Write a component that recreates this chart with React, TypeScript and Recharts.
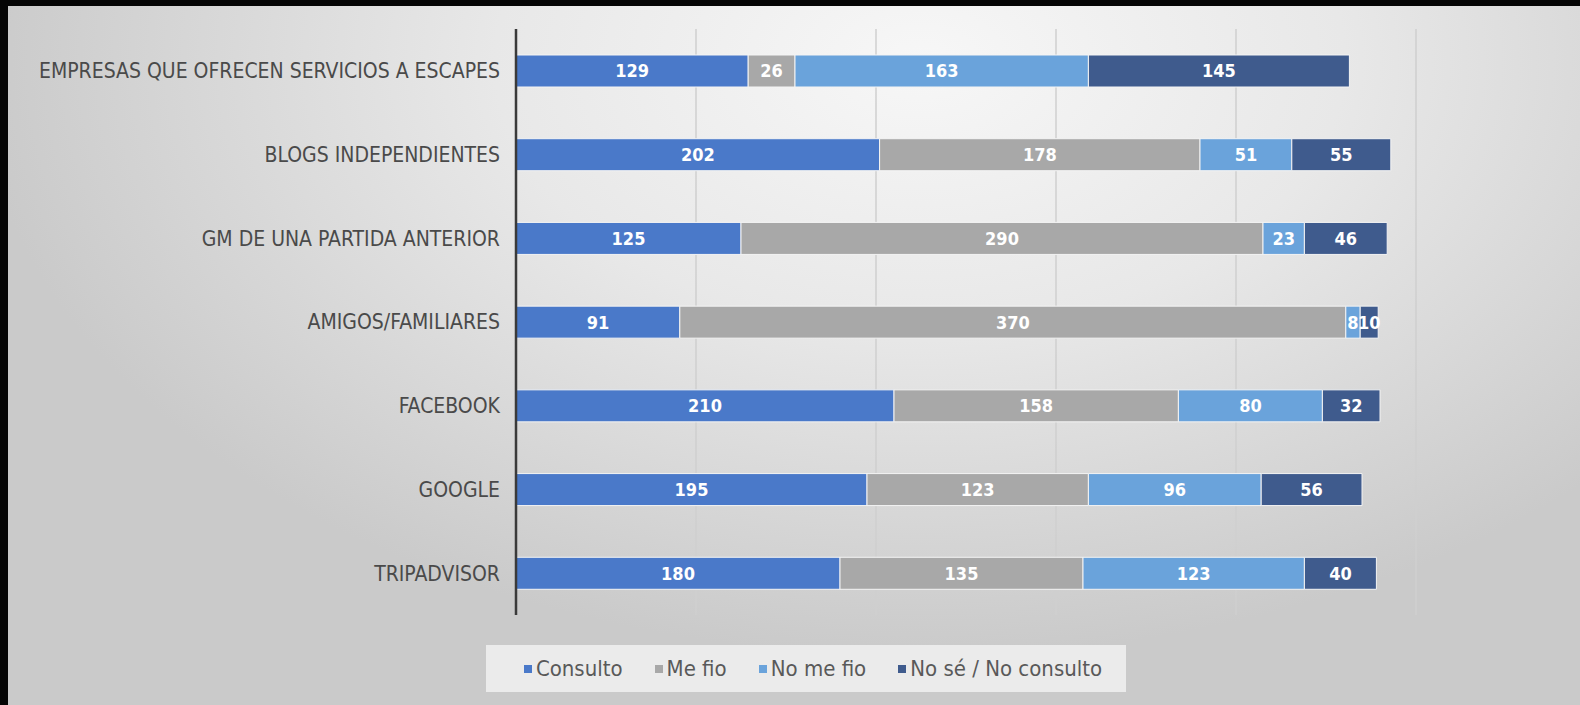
import React from "react";
import {
  BarChart,
  Bar,
  XAxis,
  YAxis,
  CartesianGrid,
  LabelList,
} from "recharts";

const categories = [
  "EMPRESAS QUE OFRECEN SERVICIOS A ESCAPES",
  "BLOGS INDEPENDIENTES",
  "GM DE UNA PARTIDA ANTERIOR",
  "AMIGOS/FAMILIARES",
  "FACEBOOK",
  "GOOGLE",
  "TRIPADVISOR",
];

const consulto = [129, 202, 125, 91, 210, 195, 180];
const meFio = [26, 178, 290, 370, 158, 123, 135];
const noMeFio = [163, 51, 23, 8, 80, 96, 123];
const noSe = [145, 55, 46, 10, 32, 56, 40];

const xTicks = [0, 100, 200, 300, 400, 500];

const SERIES = [
  { key: "consulto", name: "Consulto", color: "#4a79c9" },
  { key: "meFio", name: "Me fio", color: "#a8a8a8" },
  { key: "noMeFio", name: "No me fio", color: "#6aa3db" },
  { key: "noSe", name: "No sé / No consulto", color: "#3f5b8d" },
];

const FONT = '"Liberation Sans Narrow", "DejaVu Sans Condensed", "Open Sans", sans-serif';

const data = categories.map((c, i) => ({
  name: c,
  consulto: consulto[i],
  meFio: meFio[i],
  noMeFio: noMeFio[i],
  noSe: noSe[i],
}));

function LegendBox() {
  return (
    <div
      style={{
        display: "inline-flex",
        alignItems: "center",
        gap: 32,
        background: "rgba(238,238,238,0.9)",
        padding: "11px 24px 11px 38px",
        fontFamily: FONT,
        fontSize: 22,
        color: "#595959",
      }}
    >
      {SERIES.map((s) => (
        <span key={s.key} style={{ display: "inline-flex", alignItems: "center" }}>
          <span
            style={{
              width: 8,
              height: 8,
              background: s.color,
              display: "inline-block",
              marginRight: 4,
            }}
          />
          {s.name}
        </span>
      ))}
    </div>
  );
}

export default function App() {
  return (
    <div
      style={{
        position: "fixed",
        left: 0,
        top: 0,
        width: 1580,
        height: 705,
        background: "#050505",
        overflow: "hidden",
      }}
    >
      <div
        style={{
          position: "absolute",
          left: 8,
          top: 6,
          right: 0,
          bottom: 0,
          background:
            "radial-gradient(ellipse 60% 85% at 58% 8%, #f7f7f7 0%, #e8e8e8 45%, #cacaca 100%)",
        }}
      />
      <div style={{ position: "absolute", left: 0, top: 0 }}>
        <BarChart
          width={1580}
          height={705}
          layout="vertical"
          data={data}
          barSize={32}
          margin={{ top: 29, right: 164, bottom: 90, left: 16 }}
        >
          <CartesianGrid
            horizontal={false}
            stroke="#cfcfcf"
            strokeWidth={1.5}
          />
          <XAxis
            type="number"
            domain={[0, 500]}
            ticks={xTicks}
            hide
          />
          <YAxis
            type="category"
            dataKey="name"
            width={500}
            tickLine={false}
            tickSize={0}
            tickMargin={16}
            axisLine={{ stroke: "#3a3a3a", strokeWidth: 2.5 }}
            tick={{ fill: "#4a4a4a", fontSize: 21, fontFamily: FONT }}
            interval={0}
          />
          {SERIES.map((s) => (
            <Bar
              key={s.key}
              dataKey={s.key}
              name={s.name}
              stackId="a"
              fill={s.color}
              stroke="#f4f4f4"
              strokeWidth={1}
              isAnimationActive={false}
            >
              <LabelList
                dataKey={s.key}
                position="center"
                fill="#ffffff"
                fontSize={18}
                fontWeight="bold"
                fontFamily={FONT}
              />
            </Bar>
          ))}
        </BarChart>
      </div>
      <div
        style={{
          position: "absolute",
          left: 0,
          width: 1612,
          top: 645,
          display: "flex",
          justifyContent: "center",
        }}
      >
        <LegendBox />
      </div>
    </div>
  );
}
